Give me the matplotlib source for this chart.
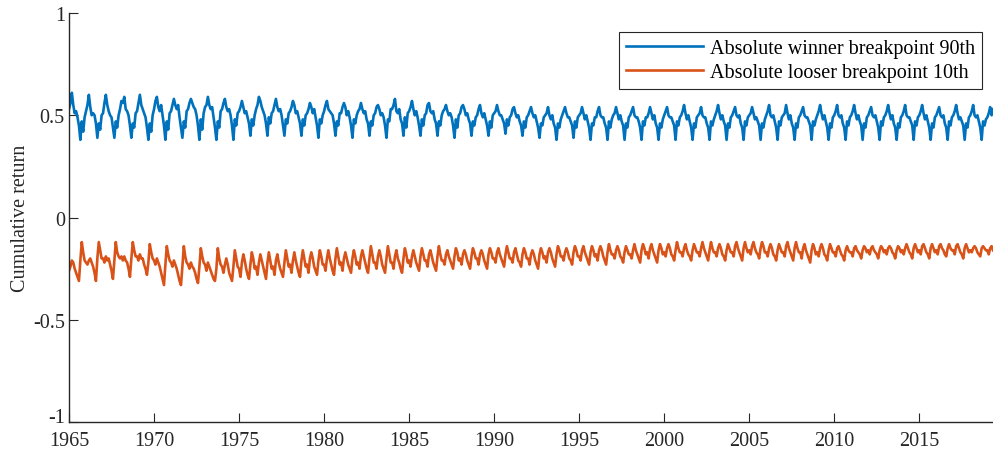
import numpy as np
import matplotlib
matplotlib.use("Agg")
import matplotlib.pyplot as plt

plt.rcParams['font.family'] = ['Liberation Serif', 'DejaVu Serif']
plt.rcParams['axes.unicode_minus'] = False

# monthly series starting Jan 1965
start_year = 1965

# Absolute winner breakpoint 90th (one row per year, Jan..Dec)
winner_90 = [
    0.53, 0.56, 0.61, 0.55, 0.51, 0.52, 0.49, 0.45, 0.38, 0.47, 0.42, 0.49,  # 1965
    0.52, 0.55, 0.60, 0.54, 0.50, 0.51, 0.50, 0.46, 0.39, 0.46, 0.43, 0.50,  # 1966
    0.51, 0.56, 0.60, 0.55, 0.52, 0.50, 0.49, 0.44, 0.39, 0.47, 0.44, 0.50,  # 1967
    0.53, 0.57, 0.56, 0.59, 0.53, 0.52, 0.50, 0.45, 0.39, 0.46, 0.44, 0.51,  # 1968
    0.52, 0.56, 0.60, 0.55, 0.53, 0.51, 0.49, 0.44, 0.38, 0.46, 0.42, 0.50,  # 1969
    0.53, 0.57, 0.59, 0.54, 0.52, 0.55, 0.50, 0.45, 0.38, 0.47, 0.43, 0.51,  # 1970
    0.52, 0.55, 0.58, 0.55, 0.53, 0.55, 0.49, 0.44, 0.39, 0.47, 0.44, 0.52,  # 1971
    0.53, 0.56, 0.58, 0.56, 0.54, 0.53, 0.50, 0.45, 0.38, 0.48, 0.43, 0.51,  # 1972
    0.54, 0.55, 0.59, 0.55, 0.53, 0.54, 0.49, 0.44, 0.38, 0.47, 0.44, 0.52,  # 1973
    0.53, 0.56, 0.58, 0.54, 0.52, 0.53, 0.50, 0.45, 0.38, 0.48, 0.45, 0.51,  # 1974
    0.52, 0.54, 0.57, 0.54, 0.51, 0.52, 0.49, 0.46, 0.40, 0.48, 0.45, 0.50,  # 1975
    0.53, 0.55, 0.59, 0.57, 0.54, 0.52, 0.50, 0.46, 0.40, 0.49, 0.46, 0.51,  # 1976
    0.52, 0.55, 0.58, 0.54, 0.52, 0.53, 0.50, 0.45, 0.40, 0.48, 0.46, 0.51,  # 1977
    0.52, 0.54, 0.57, 0.55, 0.51, 0.52, 0.49, 0.46, 0.40, 0.48, 0.45, 0.50,  # 1978
    0.51, 0.53, 0.56, 0.54, 0.51, 0.53, 0.49, 0.45, 0.39, 0.48, 0.46, 0.50,  # 1979
    0.52, 0.55, 0.57, 0.53, 0.52, 0.51, 0.50, 0.46, 0.40, 0.47, 0.45, 0.51,  # 1980
    0.51, 0.54, 0.56, 0.54, 0.50, 0.52, 0.49, 0.45, 0.39, 0.48, 0.46, 0.50,  # 1981
    0.52, 0.53, 0.56, 0.53, 0.51, 0.52, 0.48, 0.46, 0.40, 0.47, 0.45, 0.50,  # 1982
    0.51, 0.54, 0.55, 0.53, 0.50, 0.51, 0.49, 0.45, 0.39, 0.48, 0.47, 0.53,  # 1983
    0.53, 0.55, 0.58, 0.52, 0.51, 0.53, 0.48, 0.46, 0.40, 0.49, 0.44, 0.51,  # 1984
    0.52, 0.54, 0.57, 0.53, 0.50, 0.52, 0.49, 0.45, 0.40, 0.48, 0.45, 0.50,  # 1985
    0.51, 0.55, 0.56, 0.52, 0.51, 0.52, 0.48, 0.46, 0.40, 0.47, 0.45, 0.50,  # 1986
    0.52, 0.53, 0.55, 0.52, 0.50, 0.51, 0.49, 0.45, 0.39, 0.48, 0.44, 0.50,  # 1987
    0.51, 0.54, 0.55, 0.53, 0.50, 0.51, 0.48, 0.46, 0.40, 0.47, 0.45, 0.49,  # 1988
    0.50, 0.53, 0.55, 0.51, 0.49, 0.51, 0.48, 0.45, 0.40, 0.47, 0.44, 0.50,  # 1989
    0.51, 0.52, 0.55, 0.52, 0.50, 0.50, 0.48, 0.46, 0.41, 0.48, 0.45, 0.49,  # 1990
    0.50, 0.53, 0.54, 0.51, 0.49, 0.50, 0.47, 0.45, 0.40, 0.47, 0.44, 0.49,  # 1991
    0.50, 0.52, 0.54, 0.51, 0.49, 0.50, 0.47, 0.44, 0.39, 0.46, 0.45, 0.49,  # 1992
    0.50, 0.51, 0.54, 0.50, 0.48, 0.50, 0.46, 0.44, 0.38, 0.46, 0.44, 0.48,  # 1993
    0.50, 0.52, 0.54, 0.51, 0.49, 0.49, 0.47, 0.45, 0.39, 0.47, 0.44, 0.49,  # 1994
    0.50, 0.51, 0.54, 0.51, 0.48, 0.50, 0.47, 0.44, 0.38, 0.46, 0.45, 0.49,  # 1995
    0.49, 0.52, 0.54, 0.50, 0.49, 0.49, 0.46, 0.44, 0.38, 0.47, 0.44, 0.48,  # 1996
    0.50, 0.51, 0.54, 0.51, 0.48, 0.50, 0.47, 0.45, 0.38, 0.46, 0.44, 0.49,  # 1997
    0.50, 0.52, 0.54, 0.50, 0.49, 0.49, 0.47, 0.44, 0.38, 0.47, 0.45, 0.49,  # 1998
    0.49, 0.51, 0.54, 0.51, 0.48, 0.50, 0.46, 0.44, 0.38, 0.46, 0.44, 0.48,  # 1999
    0.50, 0.52, 0.54, 0.50, 0.49, 0.49, 0.47, 0.45, 0.38, 0.47, 0.45, 0.49,  # 2000
    0.50, 0.52, 0.55, 0.51, 0.48, 0.50, 0.47, 0.44, 0.38, 0.46, 0.44, 0.49,  # 2001
    0.50, 0.51, 0.54, 0.50, 0.49, 0.49, 0.46, 0.44, 0.38, 0.47, 0.45, 0.48,  # 2002
    0.50, 0.52, 0.55, 0.51, 0.48, 0.50, 0.47, 0.45, 0.38, 0.46, 0.44, 0.49,  # 2003
    0.50, 0.52, 0.54, 0.50, 0.49, 0.50, 0.46, 0.44, 0.38, 0.47, 0.45, 0.49,  # 2004
    0.50, 0.51, 0.54, 0.51, 0.48, 0.49, 0.47, 0.45, 0.38, 0.46, 0.44, 0.48,  # 2005
    0.50, 0.52, 0.55, 0.50, 0.49, 0.50, 0.47, 0.44, 0.38, 0.47, 0.45, 0.49,  # 2006
    0.50, 0.51, 0.55, 0.51, 0.48, 0.50, 0.46, 0.44, 0.38, 0.46, 0.44, 0.49,  # 2007
    0.50, 0.52, 0.54, 0.50, 0.49, 0.49, 0.47, 0.45, 0.38, 0.47, 0.45, 0.48,  # 2008
    0.50, 0.52, 0.55, 0.51, 0.48, 0.50, 0.47, 0.44, 0.38, 0.46, 0.44, 0.49,  # 2009
    0.50, 0.52, 0.55, 0.50, 0.49, 0.50, 0.46, 0.44, 0.38, 0.47, 0.45, 0.49,  # 2010
    0.50, 0.52, 0.55, 0.51, 0.48, 0.50, 0.47, 0.45, 0.38, 0.46, 0.44, 0.49,  # 2011
    0.50, 0.52, 0.54, 0.50, 0.49, 0.50, 0.47, 0.44, 0.38, 0.47, 0.45, 0.49,  # 2012
    0.50, 0.52, 0.55, 0.51, 0.48, 0.50, 0.46, 0.44, 0.38, 0.46, 0.44, 0.49,  # 2013
    0.50, 0.52, 0.55, 0.50, 0.49, 0.49, 0.47, 0.45, 0.38, 0.47, 0.45, 0.49,  # 2014
    0.50, 0.52, 0.55, 0.51, 0.48, 0.50, 0.47, 0.44, 0.38, 0.46, 0.44, 0.49,  # 2015
    0.50, 0.52, 0.54, 0.50, 0.49, 0.50, 0.46, 0.44, 0.38, 0.47, 0.45, 0.49,  # 2016
    0.50, 0.52, 0.55, 0.51, 0.48, 0.49, 0.47, 0.45, 0.38, 0.46, 0.44, 0.49,  # 2017
    0.50, 0.52, 0.55, 0.50, 0.49, 0.50, 0.47, 0.44, 0.38, 0.47, 0.45, 0.48,  # 2018
    0.49, 0.51, 0.54, 0.50, 0.53,                                            # 2019
]

# Absolute looser breakpoint 10th
looser_10 = [
    -0.26, -0.24, -0.21, -0.22, -0.25, -0.27, -0.29, -0.31, -0.21, -0.12, -0.17, -0.21,  # 1965
    -0.22, -0.23, -0.21, -0.20, -0.22, -0.24, -0.27, -0.31, -0.20, -0.12, -0.16, -0.20,  # 1966
    -0.20, -0.22, -0.19, -0.21, -0.20, -0.23, -0.26, -0.30, -0.21, -0.12, -0.17, -0.19,  # 1967
    -0.20, -0.19, -0.21, -0.19, -0.21, -0.22, -0.25, -0.29, -0.20, -0.12, -0.16, -0.19,  # 1968
    -0.19, -0.21, -0.18, -0.20, -0.20, -0.23, -0.25, -0.28, -0.22, -0.13, -0.17, -0.20,  # 1969
    -0.21, -0.23, -0.20, -0.22, -0.24, -0.27, -0.30, -0.33, -0.23, -0.14, -0.18, -0.21,  # 1970
    -0.22, -0.24, -0.21, -0.23, -0.25, -0.28, -0.31, -0.33, -0.24, -0.14, -0.19, -0.22,  # 1971
    -0.23, -0.25, -0.22, -0.24, -0.25, -0.27, -0.30, -0.32, -0.24, -0.15, -0.19, -0.22,  # 1972
    -0.23, -0.26, -0.22, -0.24, -0.26, -0.28, -0.30, -0.31, -0.25, -0.15, -0.20, -0.23,  # 1973
    -0.24, -0.27, -0.23, -0.20, -0.23, -0.27, -0.29, -0.31, -0.24, -0.16, -0.20, -0.24,  # 1974
    -0.25, -0.29, -0.22, -0.18, -0.21, -0.25, -0.28, -0.30, -0.23, -0.17, -0.20, -0.25,  # 1975
    -0.24, -0.28, -0.22, -0.18, -0.21, -0.24, -0.27, -0.30, -0.22, -0.17, -0.21, -0.25,  # 1976
    -0.24, -0.28, -0.21, -0.18, -0.22, -0.25, -0.27, -0.29, -0.22, -0.16, -0.20, -0.24,  # 1977
    -0.23, -0.27, -0.21, -0.17, -0.21, -0.24, -0.27, -0.29, -0.21, -0.16, -0.20, -0.24,  # 1978
    -0.23, -0.27, -0.20, -0.17, -0.20, -0.24, -0.26, -0.28, -0.21, -0.16, -0.19, -0.23,  # 1979
    -0.23, -0.26, -0.20, -0.16, -0.20, -0.23, -0.26, -0.28, -0.20, -0.15, -0.19, -0.23,  # 1980
    -0.22, -0.26, -0.20, -0.17, -0.20, -0.23, -0.25, -0.27, -0.20, -0.16, -0.19, -0.23,  # 1981
    -0.22, -0.25, -0.19, -0.16, -0.19, -0.22, -0.25, -0.27, -0.20, -0.14, -0.18, -0.22,  # 1982
    -0.22, -0.25, -0.19, -0.16, -0.19, -0.23, -0.25, -0.27, -0.20, -0.14, -0.18, -0.22,  # 1983
    -0.22, -0.25, -0.19, -0.16, -0.20, -0.22, -0.25, -0.27, -0.20, -0.15, -0.18, -0.22,  # 1984
    -0.21, -0.24, -0.19, -0.16, -0.19, -0.22, -0.24, -0.26, -0.19, -0.15, -0.18, -0.21,  # 1985
    -0.21, -0.24, -0.18, -0.16, -0.19, -0.22, -0.24, -0.26, -0.19, -0.14, -0.18, -0.21,  # 1986
    -0.21, -0.23, -0.18, -0.16, -0.19, -0.21, -0.23, -0.25, -0.19, -0.15, -0.17, -0.21,  # 1987
    -0.20, -0.23, -0.18, -0.16, -0.18, -0.21, -0.23, -0.25, -0.19, -0.15, -0.17, -0.20,  # 1988
    -0.20, -0.23, -0.18, -0.16, -0.18, -0.21, -0.23, -0.25, -0.18, -0.15, -0.17, -0.20,  # 1989
    -0.20, -0.22, -0.17, -0.15, -0.18, -0.20, -0.22, -0.24, -0.18, -0.14, -0.17, -0.20,  # 1990
    -0.20, -0.22, -0.17, -0.15, -0.18, -0.21, -0.22, -0.24, -0.18, -0.15, -0.17, -0.20,  # 1991
    -0.20, -0.23, -0.18, -0.16, -0.18, -0.21, -0.23, -0.25, -0.18, -0.15, -0.17, -0.20,  # 1992
    -0.19, -0.22, -0.17, -0.15, -0.17, -0.20, -0.22, -0.24, -0.18, -0.14, -0.16, -0.19,  # 1993
    -0.19, -0.21, -0.17, -0.15, -0.17, -0.20, -0.21, -0.23, -0.17, -0.14, -0.16, -0.19,  # 1994
    -0.19, -0.21, -0.16, -0.14, -0.17, -0.19, -0.21, -0.23, -0.17, -0.14, -0.16, -0.19,  # 1995
    -0.18, -0.21, -0.16, -0.14, -0.16, -0.19, -0.21, -0.23, -0.17, -0.13, -0.16, -0.18,  # 1996
    -0.18, -0.20, -0.16, -0.14, -0.16, -0.19, -0.20, -0.22, -0.17, -0.14, -0.16, -0.18,  # 1997
    -0.18, -0.20, -0.16, -0.13, -0.16, -0.18, -0.20, -0.22, -0.16, -0.13, -0.15, -0.18,  # 1998
    -0.17, -0.20, -0.15, -0.13, -0.16, -0.18, -0.20, -0.22, -0.16, -0.13, -0.15, -0.18,  # 1999
    -0.17, -0.19, -0.15, -0.13, -0.15, -0.18, -0.19, -0.21, -0.16, -0.12, -0.15, -0.17,  # 2000
    -0.17, -0.19, -0.15, -0.13, -0.16, -0.18, -0.19, -0.21, -0.16, -0.13, -0.15, -0.17,  # 2001
    -0.17, -0.19, -0.15, -0.12, -0.15, -0.17, -0.19, -0.21, -0.16, -0.12, -0.15, -0.17,  # 2002
    -0.17, -0.19, -0.15, -0.13, -0.15, -0.18, -0.19, -0.21, -0.16, -0.13, -0.15, -0.17,  # 2003
    -0.17, -0.19, -0.14, -0.12, -0.15, -0.17, -0.19, -0.21, -0.15, -0.12, -0.15, -0.17,  # 2004
    -0.16, -0.18, -0.14, -0.12, -0.15, -0.17, -0.18, -0.20, -0.15, -0.12, -0.14, -0.17,  # 2005
    -0.17, -0.19, -0.15, -0.13, -0.15, -0.18, -0.19, -0.21, -0.16, -0.13, -0.15, -0.17,  # 2006
    -0.17, -0.19, -0.14, -0.12, -0.15, -0.17, -0.19, -0.21, -0.15, -0.12, -0.15, -0.17,  # 2007
    -0.17, -0.20, -0.15, -0.13, -0.16, -0.18, -0.20, -0.22, -0.16, -0.13, -0.15, -0.18,  # 2008
    -0.17, -0.19, -0.15, -0.13, -0.15, -0.18, -0.19, -0.21, -0.16, -0.13, -0.15, -0.17,  # 2009
    -0.17, -0.19, -0.15, -0.14, -0.16, -0.18, -0.19, -0.21, -0.16, -0.14, -0.16, -0.17,  # 2010
    -0.17, -0.19, -0.15, -0.14, -0.16, -0.17, -0.18, -0.20, -0.16, -0.14, -0.15, -0.17,  # 2011
    -0.16, -0.18, -0.15, -0.14, -0.16, -0.17, -0.18, -0.20, -0.16, -0.14, -0.15, -0.17,  # 2012
    -0.16, -0.18, -0.15, -0.14, -0.15, -0.17, -0.18, -0.20, -0.16, -0.14, -0.15, -0.17,  # 2013
    -0.16, -0.18, -0.15, -0.13, -0.15, -0.17, -0.18, -0.20, -0.15, -0.13, -0.15, -0.17,  # 2014
    -0.16, -0.18, -0.14, -0.13, -0.15, -0.17, -0.18, -0.20, -0.15, -0.13, -0.15, -0.17,  # 2015
    -0.16, -0.18, -0.14, -0.13, -0.15, -0.16, -0.18, -0.19, -0.15, -0.13, -0.15, -0.16,  # 2016
    -0.16, -0.18, -0.14, -0.13, -0.15, -0.17, -0.18, -0.20, -0.15, -0.13, -0.15, -0.17,  # 2017
    -0.16, -0.17, -0.15, -0.14, -0.15, -0.17, -0.18, -0.19, -0.15, -0.14, -0.15, -0.16,  # 2018
    -0.16, -0.18, -0.15, -0.14, -0.16,                                                    # 2019
]

labels = ['Absolute winner breakpoint 90th', 'Absolute looser breakpoint 10th']
xticks = [1965, 1970, 1975, 1980, 1985, 1990, 1995, 2000, 2005, 2010, 2015]
yticks = [-1, -0.5, 0, 0.5, 1]
ytick_labels = ['-1', '-0.5', '0', '0.5', '1']

# dates from month index
t = start_year + np.arange(len(winner_90)) / 12.0

fig = plt.figure(figsize=(9.93, 4.52), dpi=100)
ax = fig.add_axes([0.0695, 0.064, 0.9305, 0.905])

ax.plot(t, winner_90, color='#0072BD', lw=1.9, label=labels[0])
ax.plot(t, looser_10, color='#D95319', lw=1.9, label=labels[1])

ax.set_xlim(start_year, t[-1])
ax.set_ylim(-1, 1)
ax.set_xticks(xticks)
ax.set_xticklabels([str(x) for x in xticks])
ax.set_yticks(yticks)
ax.set_yticklabels(ytick_labels)

for s in ['top', 'right']:
    ax.spines[s].set_visible(False)
for s in ['left', 'bottom']:
    ax.spines[s].set_color('#262626')
    ax.spines[s].set_linewidth(1.0)

ax.tick_params(direction='in', length=6.5, width=0.8, colors='#262626',
               labelsize=14.5, labelcolor='#262626')
ax.tick_params(axis='y', pad=3)
ax.tick_params(axis='x', pad=6.5)
ax.set_ylabel('Cumulative return', fontsize=14.5, color='#262626', labelpad=2)

# MATLAB puts the bottom y label sitting on its tick
ax.get_yticklabels()[0].set_verticalalignment('baseline')

leg = ax.legend(loc='upper right', bbox_to_anchor=(0.988, 0.954),
                borderaxespad=0, fontsize=14.5, frameon=True, fancybox=False,
                framealpha=1, edgecolor='#262626', handlelength=3.8,
                handletextpad=0.35, labelspacing=0.25, borderpad=0.35)
leg.get_frame().set_linewidth(0.8)

fig.savefig('out.png', dpi=100)
